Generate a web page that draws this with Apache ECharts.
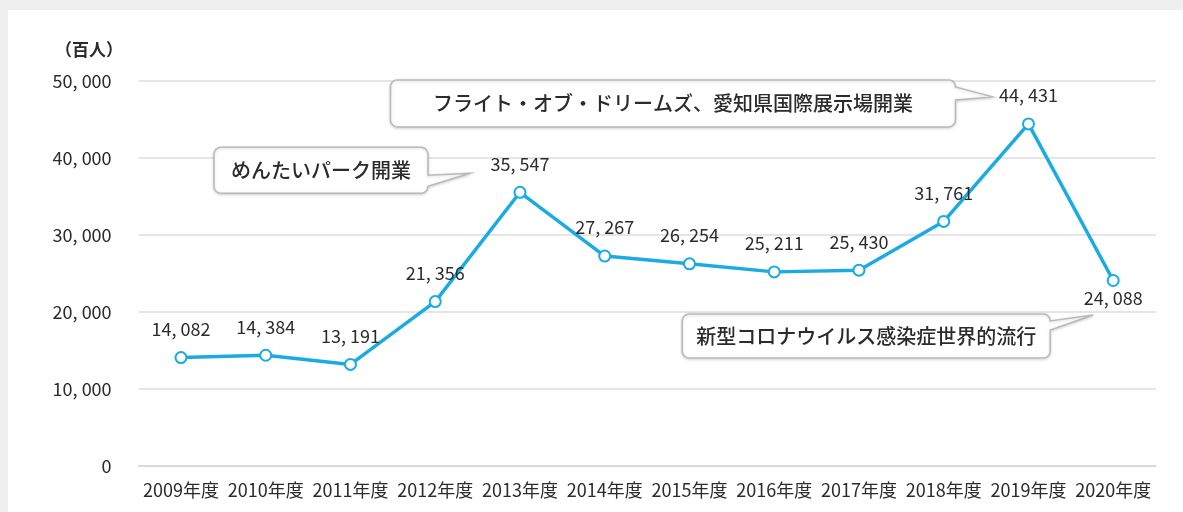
<!DOCTYPE html>
<html>
<head>
<meta charset="utf-8">
<script src="https://cdn.jsdelivr.net/npm/echarts@6/dist/echarts.min.js"></script>
<style>
  html, body { margin: 0; padding: 0; background: #efefef; width: 1183px; height: 512px; overflow: hidden; }
  #chart { position: absolute; left: 8px; top: 10px; width: 1175px; height: 502px; background: #ffffff; }
</style>
</head>
<body>
<div id="chart"></div>
<script>
// ---- data ----
const categories = ['2009年度','2010年度','2011年度','2012年度','2013年度','2014年度','2015年度','2016年度','2017年度','2018年度','2019年度','2020年度'];
const visitors = [14082, 14384, 13191, 21356, 35547, 27267, 26254, 25211, 25430, 31761, 44431, 24088];
const yTicks = [0, 10000, 20000, 30000, 40000, 50000];
const unitLabel = '（百人）';
const labelBelow = ['2020年度'];
const calloutTexts = ['めんたいパーク開業', 'フライト・オブ・ドリームズ、愛知県国際展示場開業', '新型コロナウイルス感染症世界的流行'];
const calloutYears = ['2013年度', '2019年度', '2020年度'];

const FONT = "'Noto Sans CJK JP', 'Noto Sans', sans-serif";
const LINE = '#1aabe3';
const TXT = '#2b2b2b';
const fmt = v => String(v).replace(/\B(?=(\d{3})+(?!\d))/g, ', ');

const chart = echarts.init(document.getElementById('chart'));
const seriesData = visitors.map((v, i) => labelBelow.includes(categories[i])
  ? { value: v, label: { position: 'bottom', distance: 2 } }
  : v);

chart.setOption({
  animation: false,
  backgroundColor: '#ffffff',
  grid: { left: 130.6, right: 27.4, top: 71, bottom: 46 },
  xAxis: {
    type: 'category',
    data: categories,
    boundaryGap: true,
    axisLine: { show: true, lineStyle: { color: '#d9d9d9', width: 2 } },
    axisTick: { show: false },
    axisLabel: { color: TXT, fontSize: 18, fontFamily: FONT, margin: 15, interval: 0 }
  },
  yAxis: {
    type: 'value',
    min: yTicks[0],
    max: yTicks[yTicks.length - 1],
    interval: yTicks[1] - yTicks[0],
    axisLine: { show: false },
    axisTick: { show: false },
    splitLine: { lineStyle: { color: '#dcdcdc', width: 1.5 } },
    axisLabel: { color: TXT, fontSize: 18, fontFamily: FONT, margin: 27, formatter: v => fmt(v) }
  },
  series: [{
    type: 'line',
    data: seriesData,
    symbol: 'circle',
    symbolSize: 11,
    lineStyle: { color: LINE, width: 3.5 },
    itemStyle: { color: '#ffffff', borderColor: LINE, borderWidth: 2 },
    label: {
      show: true, position: 'top', distance: 13,
      color: TXT, fontSize: 18, fontFamily: FONT,
      formatter: p => fmt(p.value)
    },
    z: 3
  }]
});

// callout geometry relative to anchored data point (pixel offsets)
const calloutGeom = [
  { x0: -306, x1: -92, y0: -45, y1: 1, ya: -17, yb: -4, tx: -50, ty: -19 },
  { x0: -638, x1: -73, y0: -44, y1: 3, ya: -40, yb: -24, tx: -36, ty: -27 },
  { x0: -431, x1: -63, y0: 33.5, y1: 77.5, ya: 35.5, yb: 49.5, tx: -20, ty: 34.5 }
];

function arc(pts, cx, cy, r, a0, a1) {
  const n = 6;
  for (let i = 0; i <= n; i++) {
    const a = a0 + (a1 - a0) * i / n;
    pts.push([cx + r * Math.cos(a), cy + r * Math.sin(a)]);
  }
}
function bubblePoints(x0, y0, x1, y1, ya, yb, tx, ty, r) {
  const pts = [];
  const PI = Math.PI;
  arc(pts, x1 - r, y0 + r, r, -PI / 2, 0);
  pts.push([x1, ya], [tx, ty], [x1, yb]);
  arc(pts, x1 - r, y1 - r, r, 0, PI / 2);
  arc(pts, x0 + r, y1 - r, r, PI / 2, PI);
  arc(pts, x0 + r, y0 + r, r, PI, 1.5 * PI);
  return pts;
}

const graphics = [{
  type: 'text', x: 47, y: 40, z: 10,
  style: { text: unitLabel, fill: TXT, font: `bold 17px ${FONT}`, verticalAlign: 'middle' }
}];

calloutTexts.forEach((txt, k) => {
  const idx = categories.indexOf(calloutYears[k]);
  const p = chart.convertToPixel({ seriesIndex: 0 }, [idx, visitors[idx]]);
  const g = calloutGeom[k];
  const x0 = p[0] + g.x0, x1 = p[0] + g.x1, y0 = p[1] + g.y0, y1 = p[1] + g.y1;
  const r = 7;
  const yMin = Math.max(p[1] + g.ya, y0 + r), yMax = Math.min(p[1] + g.yb, y1 - r);
  graphics.push({
    type: 'polygon', z: 10,
    shape: { points: bubblePoints(x0, y0, x1, y1, yMin, yMax, p[0] + g.tx, p[1] + g.ty, r) },
    style: { fill: '#ffffff', stroke: '#b9b9b9', lineWidth: 1.5, shadowBlur: 3, shadowColor: 'rgba(0,0,0,0.15)', shadowOffsetY: 1 }
  });
  graphics.push({
    type: 'text', z: 11,
    x: (x0 + x1) / 2, y: (y0 + y1) / 2,
    style: { text: txt, fill: TXT, font: `500 20px ${FONT}`, align: 'center', verticalAlign: 'middle' }
  });
});

chart.setOption({ graphic: graphics });
</script>
</body>
</html>
